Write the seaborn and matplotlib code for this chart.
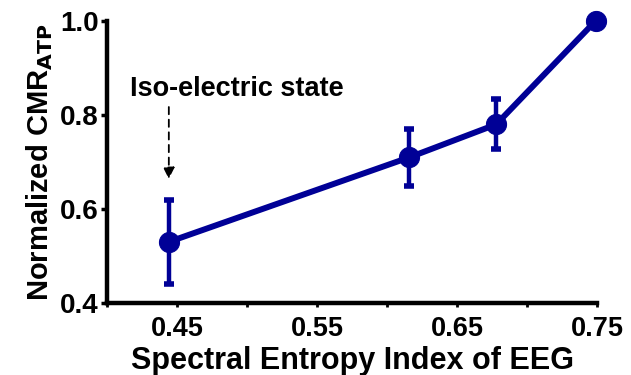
import matplotlib
matplotlib.use("Agg")
import matplotlib.pyplot as plt
import numpy as np
import pandas as pd
import seaborn as sns

# Data
entropy = [0.444, 0.616, 0.678, 0.749]
cmr_atp = [0.53, 0.71, 0.78, 1.00]
cmr_err = [0.09, 0.06, 0.053, 0.0]
x_ticks = [0.45, 0.55, 0.65, 0.75]
x_minor = [0.40, 0.50, 0.60, 0.70]
y_ticks = [0.4, 0.6, 0.8, 1.0]

sns.set_theme(style="ticks")
plt.rcParams['font.family'] = ['Liberation Sans', 'DejaVu Sans']
plt.rcParams['font.weight'] = 'bold'
for key in ['text.color', 'axes.labelcolor', 'xtick.color', 'ytick.color']:
    plt.rcParams[key] = 'black'

navy = '#000096'
df = pd.DataFrame({'entropy': entropy, 'cmr': cmr_atp, 'err': cmr_err})

fig = plt.figure(figsize=(6.31, 3.75), dpi=100)
ax = fig.add_axes([0.170, 0.192, 0.776, 0.752])

# error bars first so the line and markers sit on top
ax.errorbar(df['entropy'], df['cmr'], yerr=df['err'], fmt='none',
            ecolor=navy, elinewidth=3.2, capsize=3.5, capthick=4, clip_on=False, zorder=2)
sns.lineplot(data=df, x='entropy', y='cmr', ax=ax, color=navy, linewidth=4.3,
             marker='o', markersize=14.5, markeredgecolor=navy, clip_on=False, zorder=3)

ax.set_xlim(0.40, 0.75)
ax.set_ylim(0.4, 1.0)
ax.set_xticks(x_ticks)
ax.set_xticklabels([f"{t:.2f}" for t in x_ticks])
ax.set_xticks(x_minor, minor=True)
ax.set_yticks(y_ticks)
ax.set_yticklabels([f"{t:.1f}" for t in y_ticks])

for side in ['top', 'right']:
    ax.spines[side].set_visible(False)
for side in ['left', 'bottom']:
    ax.spines[side].set_linewidth(3.2)
    ax.spines[side].set_color('black')

ax.tick_params(axis='y', which='major', length=4, width=2.5, labelsize=20, pad=2)
ax.tick_params(axis='x', which='both', length=3, width=2, labelsize=19.5, pad=6)
for lbl in ax.get_xticklabels() + ax.get_yticklabels():
    lbl.set_fontweight('bold')

ax.set_xlabel('Spectral Entropy Index of EEG', fontsize=22, fontweight='bold', labelpad=3)
ax.set_ylabel(r'Normalized CMR$_{\mathbf{ATP}}$', fontsize=21, fontweight='bold', labelpad=4)

# annotation: label plus a dashed vertical arrow down to the first point
ax.text(0.4925, 0.855, 'Iso-electric state', ha='center', va='center',
        fontsize=19.5, fontweight='bold')
ax.annotate('', xy=(entropy[0], 0.664), xytext=(entropy[0], 0.817),
            arrowprops=dict(arrowstyle='-|>', linestyle=(0, (4, 3)), color='black',
                            lw=1.3, shrinkA=0, shrinkB=0, mutation_scale=17))

plt.savefig('out.png', dpi=100)
